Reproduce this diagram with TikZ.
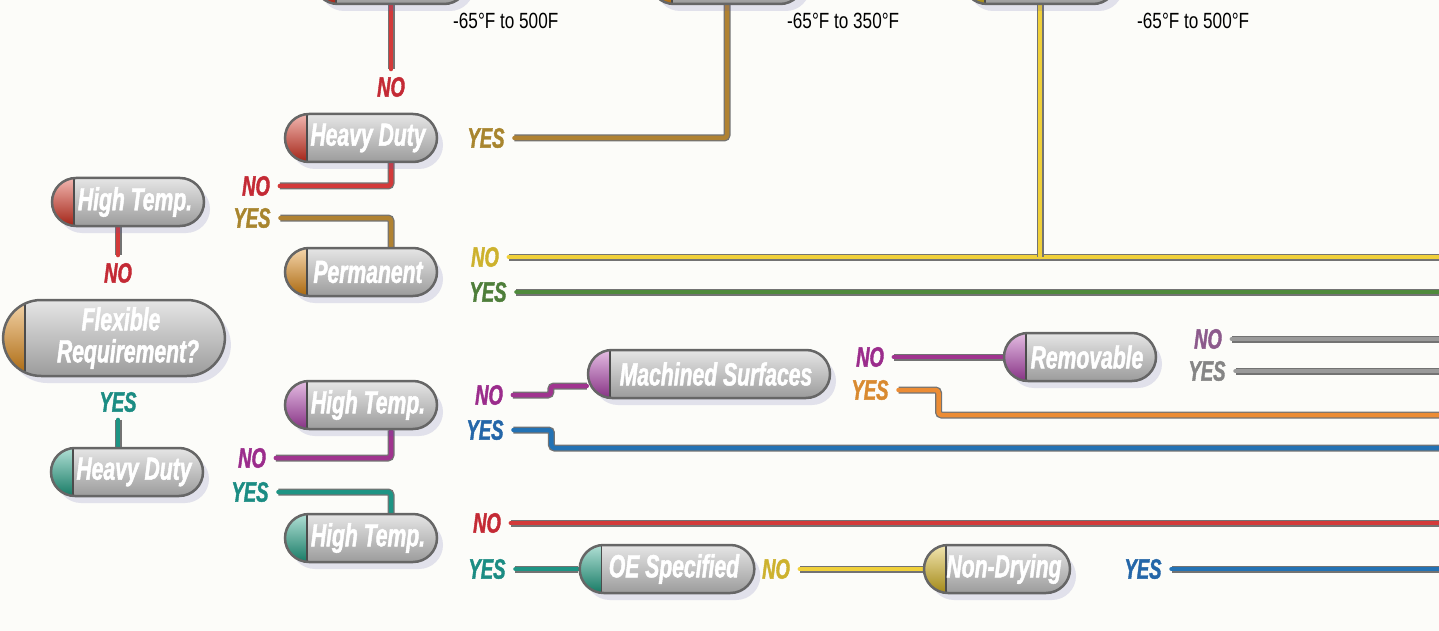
\documentclass[tikz,border=0pt]{standalone}
\usepackage{fontspec}
\setmainfont{Liberation Sans}
\newfontfamily\pillfont[FakeStretch=0.66, BoldItalicFeatures={FakeBold=1.4}]{Liberation Sans}
\newfontfamily\tempfont[FakeStretch=0.78]{Liberation Sans}
\usetikzlibrary{shapes.misc,shadows}

\definecolor{paper}{HTML}{FCFCF9}
\definecolor{redline}{HTML}{D33A3A}
\definecolor{brownline}{HTML}{B08232}
\definecolor{yellowline}{HTML}{F0D03A}
\definecolor{greenline}{HTML}{4F8A3C}
\definecolor{tealline}{HTML}{1E9484}
\definecolor{purpleline}{HTML}{A0348F}
\definecolor{blueline}{HTML}{2372B4}
\definecolor{orangeline}{HTML}{EC8C34}
\definecolor{grayline}{HTML}{9A9A9A}
\definecolor{capred}{HTML}{D9301E}
\definecolor{caporange}{HTML}{E38A12}
\definecolor{cappurple}{HTML}{B343B0}
\definecolor{capteal}{HTML}{1FA487}
\definecolor{capyellow}{HTML}{D9B61E}
\definecolor{nored}{HTML}{C42A35}
\definecolor{yesbrown}{HTML}{A8852E}
\definecolor{noyellow}{HTML}{CDB22E}
\definecolor{yesgreen}{HTML}{4E7E3A}
\definecolor{yesteal}{HTML}{1B8C83}
\definecolor{nopurple}{HTML}{9B2C8C}
\definecolor{yesblue}{HTML}{2466A8}
\definecolor{yesorange}{HTML}{D98A30}
\definecolor{nomauve}{HTML}{8C5A8C}
\definecolor{yesgray}{HTML}{858585}

\pgfdeclarelayer{wires}
\pgfsetlayers{wires,main}

\tikzset{
  pill/.style={rounded rectangle, draw=black!60, line width=2.5pt,
    top color=gray!20, bottom color=gray!78, minimum height=48pt,
    inner xsep=10pt, inner ysep=2pt, text=white,
    font=\pillfont\bfseries\itshape\fontsize{32}{32}\selectfont,
    execute at begin node={\hspace*{14pt}},
    drop shadow={opacity=0.16, fill=blue!30!gray, shadow xshift=6pt, shadow yshift=-7pt},
    path picture={
      \shade[top color=#1!35!white, bottom color=#1!75!black]
        (path picture bounding box.south west) rectangle
        ([xshift=22pt]path picture bounding box.north west);
      \draw[black!70, line width=1.5pt]
        ([xshift=22pt]path picture bounding box.south west) --
        ([xshift=22pt]path picture bounding box.north west);}},
  answer/.style={font=\pillfont\bfseries\itshape\fontsize{28}{28}\selectfont,
    text=#1, inner sep=0pt, outer xsep=10pt, outer ysep=8pt},
  wire/.style={draw=#1, line width=4.5pt, line cap=round, line join=round,
    rounded corners=3pt, preaction={draw=black!55, line width=7pt}},
  temp/.style={font=\tempfont\fontsize{22}{24}\selectfont, anchor=west, inner sep=0pt}
}

\begin{document}
\begin{tikzpicture}[x=1pt,y=-1pt]
\useasboundingbox (0,0) rectangle (1439,631);
\clip (0,0) rectangle (1439,631);

\coordinate (endYellow) at (1442,257);
\coordinate (endGreen) at (1442,292);
\coordinate (endGrayNo) at (1442,339);
\coordinate (endGrayYes) at (1442,371);
\coordinate (endOrange) at (1442,415);
\coordinate (endBlue) at (1442,448);
\coordinate (endRed) at (1442,523);
\coordinate (endBlueLow) at (1442,569);

\node[pill=capred, minimum width=174pt] (topRed) at (391,-20) {};
\node[pill=caporange, minimum width=174pt] (topBrown) at (727,-20) {};
\node[pill=capyellow, minimum width=174pt] (topYellow) at (1040,-20) {};

\node[temp] (tempRed) at (453,21) {-65°F to 500F};
\node[temp] (tempBrown) at (787,21) {-65°F to 350°F};
\node[temp] (tempYellow) at (1137,21) {-65°F to 500°F};

\node[pill=capred, minimum width=172pt] (hdRed) at (361,138) {Heavy Duty};
\node[pill=capred, minimum width=172pt] (htRed) at (128,202) {High Temp.};
\node[pill=caporange, minimum width=172pt] (perm) at (361,272) {Permanent};
\node[pill=caporange, minimum width=204pt, minimum height=76pt, align=center] (flex) at (114,338) {Flexible\\\hspace*{14pt}Requirement?};
\node[pill=cappurple, minimum width=172pt] (htPurple) at (361,405) {High Temp.};
\node[pill=capteal, minimum width=172pt] (hdTeal) at (127,472) {Heavy Duty};
\node[pill=capteal, minimum width=172pt] (htTeal) at (361,538) {High Temp.};
\node[pill=cappurple, minimum width=262pt] (mach) at (709,374) {Machined Surfaces};
\node[pill=cappurple, minimum width=172pt] (remov) at (1080,357) {Removable};
\node[pill=capteal, minimum width=168pt] (oeSpec) at (667,569) {OE Specified};
\node[pill=capyellow, minimum width=166pt] (nonDry) at (997,569) {Non-Drying};

\node[answer=nored] (noTop) at (391,87) {NO};
\node[answer=yesbrown] (yesHdRed) at (486,138) {YES};
\node[answer=nored] (noHdRed) at (256,186) {NO};
\node[answer=yesbrown] (yesHtRed) at (252,218) {YES};
\node[answer=nored] (noHtRed) at (118,273) {NO};
\node[answer=noyellow] (noPerm) at (485,257) {NO};
\node[answer=yesgreen] (yesPerm) at (488,292) {YES};
\node[answer=yesteal] (yesFlex) at (118,402) {YES};
\node[answer=nopurple] (noHtPurple) at (489,395) {NO};
\node[answer=yesblue] (yesHtPurple) at (485,430) {YES};
\node[answer=nopurple] (noHdTeal) at (252,458) {NO};
\node[answer=yesteal] (yesHdTeal) at (250,492) {YES};
\node[answer=nopurple] (noMach) at (870,357) {NO};
\node[answer=yesorange] (yesMach) at (870,390) {YES};
\node[answer=nomauve] (noRemov) at (1208,339) {NO};
\node[answer=yesgray] (yesRemov) at (1207,371) {YES};
\node[answer=nored] (noHtTeal) at (487,523) {NO};
\node[answer=yesteal] (yesHtTeal) at (487,569) {YES};
\node[answer=noyellow] (noOe) at (776,569) {NO};
\node[answer=yesblue] (yesNonDry) at (1143,569) {YES};

\begin{pgfonlayer}{wires}
\fill[paper] (0,0) rectangle (1439,631);
\draw[wire=redline] (topRed.south) -- (noTop.north);
\draw[wire=brownline] (yesHdRed.east) -| (topBrown.south);
\draw[wire=redline] (noHdRed.east) -| ([xshift=30pt]hdRed.south);
\draw[wire=brownline] (yesHtRed.east) -| ([xshift=30pt]perm.north);
\draw[wire=redline] (noHtRed.north |- htRed.south) -- (noHtRed.north);
\draw[wire=yellowline] (noPerm.east) -- (endYellow);
\draw[wire=yellowline] (topYellow.south) -- (topYellow.south |- endYellow);
\draw[wire=greenline] (yesPerm.east) -- (endGreen);
\draw[wire=tealline] (yesFlex.south) -- (yesFlex.south |- hdTeal.north);
\draw[wire=purpleline] (noHdTeal.east) -| ([xshift=30pt]htPurple.south);
\draw[wire=tealline] (yesHdTeal.east) -| ([xshift=30pt]htTeal.north);
\draw[wire=purpleline] (noHtPurple.east) -- ++(38,0) |- ([yshift=-12pt]mach.west);
\draw[wire=blueline] (yesHtPurple.east) -- ++(38,0) |- (endBlue);
\draw[wire=purpleline] (noMach.east) -- (remov.west);
\draw[wire=orangeline] (yesMach.east) -- ++(40,0) |- (endOrange);
\draw[wire=grayline] (noRemov.east) -- (endGrayNo);
\draw[wire=grayline] (yesRemov.east) -- (endGrayYes);
\draw[wire=redline] (noHtTeal.east) -- (endRed);
\draw[wire=tealline] (yesHtTeal.east) -- (oeSpec.west);
\draw[wire=yellowline] (noOe.east) -- (nonDry.west);
\draw[wire=blueline] (yesNonDry.east) -- (endBlueLow);
\end{pgfonlayer}
\end{tikzpicture}
\end{document}
